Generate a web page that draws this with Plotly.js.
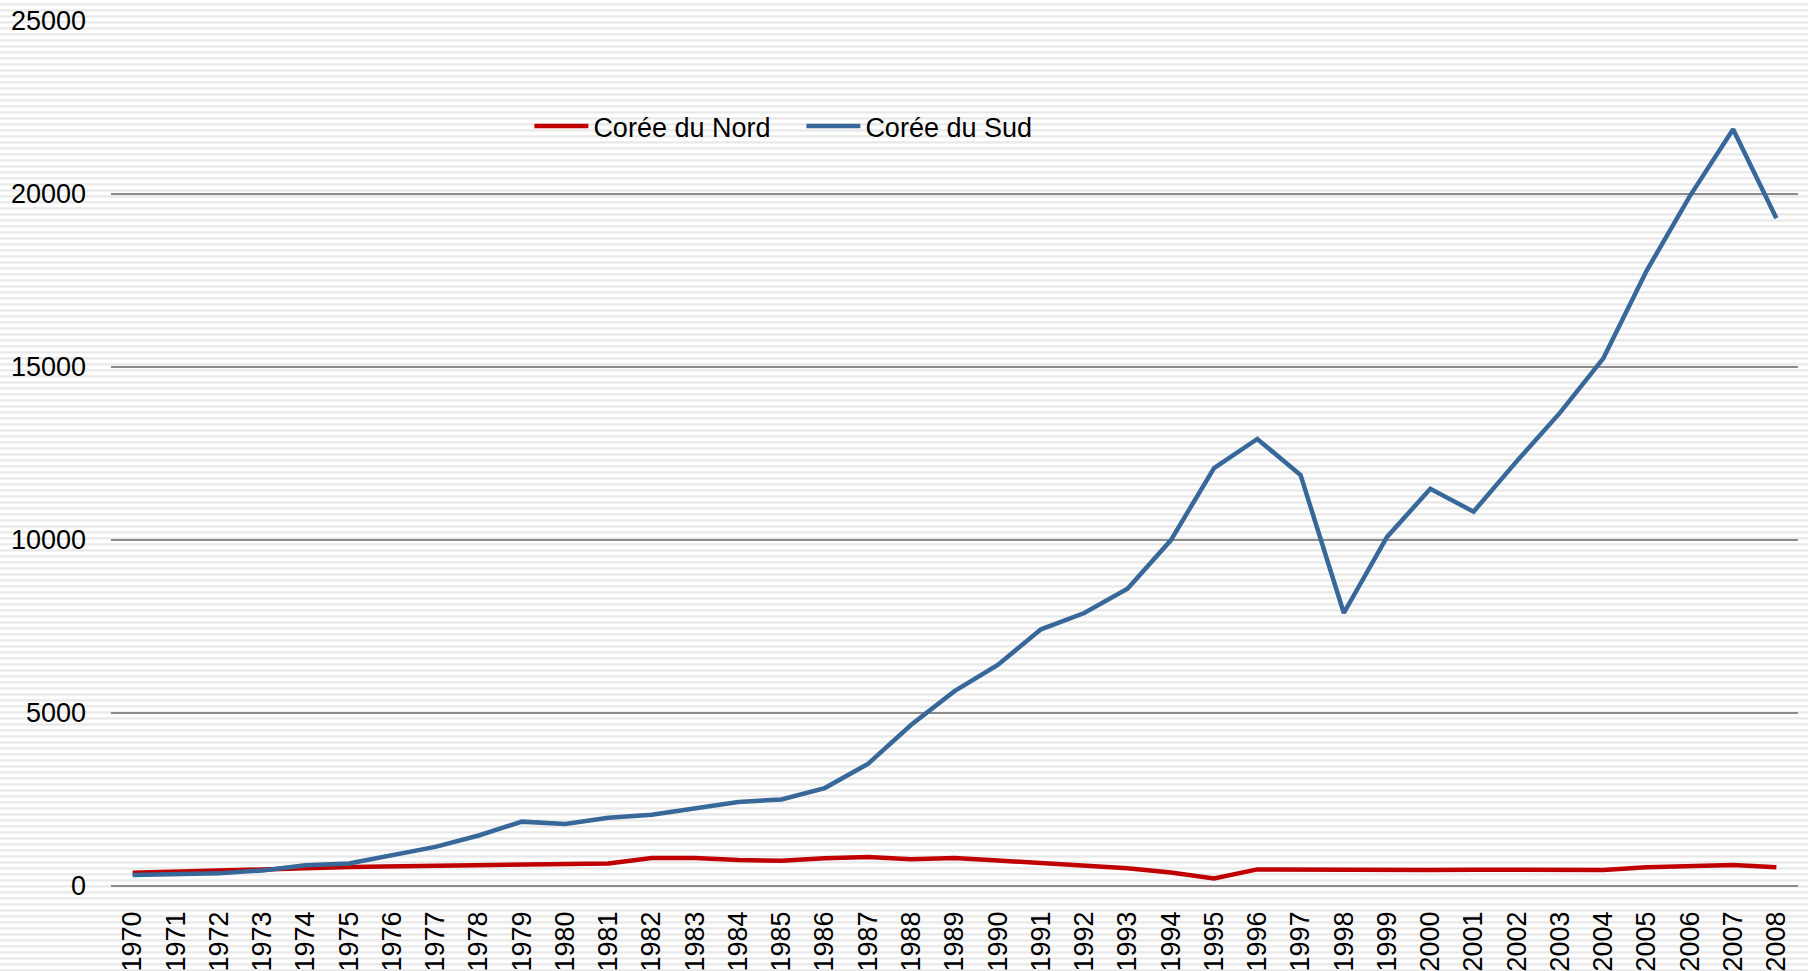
<!DOCTYPE html>
<html>
<head>
<meta charset="utf-8">
<script src="https://cdn.plot.ly/plotly-3.0.1.min.js"></script>
<style>
    html, body {
        margin: 0;
        padding: 0;
        width: 1808px;
        height: 971px;
        overflow: hidden;
        /* striped backdrop of the original chart */
        background: repeating-linear-gradient(to bottom, #ffffff 0px, #ffffff 3px, #f0f0f0 3px, #e6e6e6 5px, #ffffff 6px);
    }
    #chart { width: 1808px; height: 971px; }
</style>
</head>
<body>
<div id="chart"></div>
<script>
// GDP per capita (USD), 1970-2008
const years = ['1970', '1971', '1972', '1973', '1974', '1975', '1976', '1977', '1978', '1979',
               '1980', '1981', '1982', '1983', '1984', '1985', '1986', '1987', '1988', '1989',
               '1990', '1991', '1992', '1993', '1994', '1995', '1996', '1997', '1998', '1999',
               '2000', '2001', '2002', '2003', '2004', '2005', '2006', '2007', '2008'];

const northKorea = [384, 410, 440, 470, 510, 550, 570, 590, 600, 615,
                    630, 650, 810, 810, 750, 730, 800, 840, 770, 810,
                    740, 660, 600, 510, 390, 220, 480, 470, 460, 450,
                    465, 470, 462, 465, 462, 540, 575, 607, 540];

const southKorea = [318, 335, 365, 450, 600, 650, 900, 1130, 1460, 1860,
                    1790, 1970, 2060, 2230, 2430, 2500, 2830, 3530, 4660, 5630,
                    6390, 7420, 7890, 8590, 9990, 12080, 12920, 11880, 7890, 10090,
                    11480, 10820, 12280, 13680, 15250, 17780, 19940, 21870, 19300];

const seriesNames = ['Corée du Nord', 'Corée du Sud'];

const COLORS = {
    north: '#C00000',
    south: '#386899',
    grid: '#8c8c8c',
    text: '#000000'
};

const FONT = 'Arial, "Liberation Sans", sans-serif';
const FONT_SIZE = 27;

const traces = [
    {
        x: years,
        y: northKorea,
        name: seriesNames[0],
        type: 'scatter',
        mode: 'lines',
        line: { color: COLORS.north, width: 4.5 }
    },
    {
        x: years,
        y: southKorea,
        name: seriesNames[1],
        type: 'scatter',
        mode: 'lines',
        line: { color: COLORS.south, width: 4.5 }
    }
];

const layout = {
    width: 1808,
    height: 971,
    paper_bgcolor: 'rgba(0,0,0,0)',
    plot_bgcolor: 'rgba(0,0,0,0)',
    font: { family: FONT, size: FONT_SIZE, color: COLORS.text },
    margin: { t: 21, r: 10, b: 85, l: 111 },
    showlegend: true,
    legend: {
        orientation: 'h',
        x: 0.248,
        xanchor: 'left',
        y: 0.878,
        yanchor: 'middle',
        bgcolor: 'rgba(0,0,0,0)',
        font: { family: FONT, size: FONT_SIZE, color: COLORS.text },
        itemwidth: 54,
        entrywidth: 203,
        traceorder: 'normal'
    },
    xaxis: {
        type: 'category',
        range: [-0.5, 38.5],
        showgrid: false,
        showline: false,
        zeroline: false,
        ticks: '',
        tickangle: -90,
        ticklabelstandoff: 19,
        tickfont: { family: FONT, size: FONT_SIZE, color: COLORS.text },
        fixedrange: true
    },
    yaxis: {
        range: [0, 25000],
        dtick: 5000,
        tick0: 0,
        showgrid: true,
        gridcolor: COLORS.grid,
        gridwidth: 2,
        zeroline: true,
        zerolinecolor: COLORS.grid,
        zerolinewidth: 2,
        showline: false,
        ticks: '',
        ticklabelstandoff: 24,
        tickformat: 'd',
        tickfont: { family: FONT, size: FONT_SIZE, color: COLORS.text },
        fixedrange: true
    },
    hovermode: false
};

Plotly.newPlot('chart', traces, layout, { displayModeBar: false, staticPlot: true });
</script>
</body>
</html>
